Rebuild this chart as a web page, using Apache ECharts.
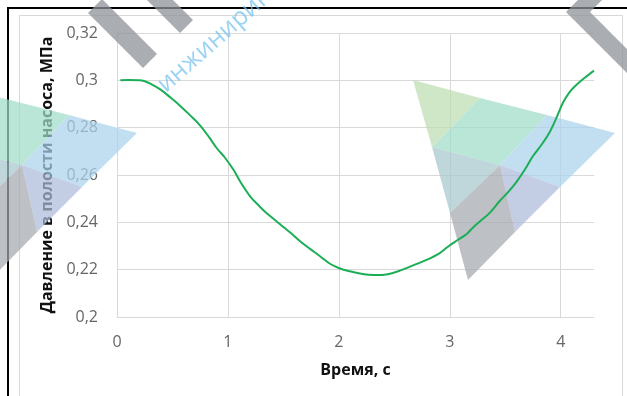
<!DOCTYPE html>
<html>
<head>
<meta charset="utf-8">
<script src="https://cdn.jsdelivr.net/npm/echarts@6/dist/echarts.min.js"></script>
<style>
  html, body { margin: 0; padding: 0; background: #fff; }
  #chart { width: 627px; height: 396px; }
</style>
</head>
<body>
<div id="chart"></div>
<script>
// Pump cavity pressure over time
const timeSec = [
  0.03, 0.10, 0.20, 0.25, 0.30, 0.39, 0.48, 0.57, 0.66, 0.75,
  0.83, 0.90, 0.97, 1.05, 1.12, 1.20, 1.28, 1.35, 1.43, 1.50,
  1.58, 1.65, 1.74, 1.83, 1.92, 2.01, 2.10, 2.19, 2.27, 2.34,
  2.44, 2.55, 2.67, 2.79, 2.91, 2.98, 3.06, 3.15, 3.21, 3.27,
  3.36, 3.45, 3.53, 3.60, 3.68, 3.75, 3.83, 3.90, 3.96, 4.02,
  4.08, 4.14, 4.22, 4.30
];
const pressureMPa = [
  0.3000, 0.3001, 0.3000, 0.2996, 0.2986, 0.2962, 0.2928, 0.2892, 0.2852, 0.2809,
  0.2760, 0.2713, 0.2675, 0.2622, 0.2565, 0.2510, 0.2470, 0.2438, 0.2408, 0.2380,
  0.2350, 0.2320, 0.2288, 0.2257, 0.2225, 0.2205, 0.2193, 0.2184, 0.2179, 0.2177,
  0.2181, 0.2196, 0.2218, 0.2241, 0.2270, 0.2296, 0.2322, 0.2350, 0.2378, 0.2403,
  0.2440, 0.2490, 0.2530, 0.2570, 0.2625, 0.2680, 0.2730, 0.2781, 0.2840, 0.2905,
  0.2950, 0.2980, 0.3012, 0.3041
];
const xGridValues = [1, 2, 3, 4];
const yAxisTitle = 'Давление в полости насоса, МПа';
const xAxisTitle = 'Время, с';
const watermarkWord = 'инжиниринг';

const FONT = '"Open Sans", "DejaVu Sans", sans-serif';
const GRID_COLOR = '#d9d9d9';
const MARK_Z = 2;

// Triangular logo made of shaded facets; dx shifts the whole logo horizontally
function logoFacets(dx) {
  const p = (x, y) => [x + dx, y];
  const A = p(413, 80), B = p(615, 133), C = p(468, 280);
  const P1 = p(480, 98), P2 = p(547, 115);
  const Q1 = p(432, 147), Q2 = p(450, 213);
  const R1 = p(560, 187), R2 = p(515, 232);
  const O = p(500, 165);
  const facets = [
    { pts: [A, P1, Q1], color: 'rgb(190,222,178)' },
    { pts: [P1, P2, O, Q1], color: 'rgb(160,220,200)' },
    { pts: [Q1, O, Q2], color: 'rgb(166,200,204)' },
    { pts: [P2, B, R1, O], color: 'rgb(170,210,236)' },
    { pts: [O, R1, R2], color: 'rgb(172,186,218)' },
    { pts: [Q2, O, R2, C], color: 'rgb(164,168,175)' }
  ];
  return facets.map(f => ({
    type: 'polygon', z: MARK_Z, silent: true,
    shape: { points: f.pts },
    style: { fill: f.color, opacity: 0.72 }
  }));
}

const bandStyle = { fill: 'rgb(142,146,151)', opacity: 0.75 };

const graphics = [
  // page frame and chart-area border
  { type: 'line', z: 0, silent: true, shape: { x1: 7, y1: 8, x2: 627, y2: 8 }, style: { stroke: '#000', lineWidth: 2 } },
  { type: 'line', z: 0, silent: true, shape: { x1: 8, y1: 7, x2: 8, y2: 396 }, style: { stroke: '#000', lineWidth: 2 } },
  { type: 'rect', z: 0, silent: true, shape: { x: 19.5, y: 15.5, width: 603, height: 400 }, style: { fill: 'none', stroke: GRID_COLOR, lineWidth: 1 } },
  // grey diagonal strokes
  { type: 'polygon', z: MARK_Z, silent: true, shape: { points: [[88, 13], [102, -1], [157, 54], [143, 68]] }, style: bandStyle },
  { type: 'polygon', z: MARK_Z, silent: true, shape: { points: [[140, -7], [153, -20], [193, 20], [180, 33]] }, style: bandStyle },
  { type: 'polyline', z: MARK_Z, silent: true, shape: { points: [[612, -22], [578, 12], [650, 84]] },
    style: { stroke: 'rgb(142,146,151)', lineWidth: 17, opacity: 0.75, lineJoin: 'miter', fill: null } },
  // diagonal word
  { type: 'text', z: MARK_Z, silent: true, x: 161, y: 88, rotation: 41.5 * Math.PI / 180,
    style: { text: watermarkWord, font: '25px ' + FONT, fill: 'rgba(115,192,238,0.72)', align: 'left', verticalAlign: 'middle' } }
].concat(logoFacets(0), logoFacets(-478));

const chart = echarts.init(document.getElementById('chart'), null, { renderer: 'canvas' });

chart.setOption({
  backgroundColor: '#fff',
  animation: false,
  grid: { left: 117, right: 33, top: 33, bottom: 79 },
  xAxis: {
    type: 'value',
    min: 0, max: 4.3, interval: 1,
    name: xAxisTitle,
    nameLocation: 'middle', nameGap: 45,
    nameTextStyle: { fontFamily: FONT, fontWeight: 'bold', fontSize: 16, color: '#111' },
    axisLine: { show: true, lineStyle: { color: GRID_COLOR, width: 1 } },
    axisTick: { show: false },
    axisLabel: { showMaxLabel: false, margin: 17, fontFamily: FONT, fontSize: 16, color: '#666' },
    splitLine: { show: false }
  },
  yAxis: {
    type: 'value',
    min: 0.2, max: 0.32, interval: 0.02,
    name: yAxisTitle,
    nameLocation: 'middle', nameGap: 59, nameRotate: 90,
    nameTextStyle: { fontFamily: FONT, fontWeight: 'bold', fontSize: 16, color: '#111' },
    axisLine: { show: true, lineStyle: { color: GRID_COLOR, width: 1 } },
    axisTick: { show: false },
    axisLabel: {
      margin: 19, fontFamily: FONT, fontSize: 16, color: '#666',
      formatter: v => String(parseFloat(v.toFixed(2))).replace('.', ',')
    },
    splitLine: { show: true, lineStyle: { color: GRID_COLOR, width: 1 } }
  },
  series: [{
    type: 'line',
    data: timeSec.map((t, i) => [t, pressureMPa[i]]),
    showSymbol: false,
    smooth: 0.35,
    lineStyle: { color: '#1cae57', width: 2 },
    z: 5,
    markLine: {
      silent: true, symbol: 'none', z: 1,
      label: { show: false },
      lineStyle: { color: GRID_COLOR, width: 1, type: 'solid' },
      data: xGridValues.map(v => ({ xAxis: v }))
    }
  }],
  graphic: { elements: graphics }
});
</script>
</body>
</html>
